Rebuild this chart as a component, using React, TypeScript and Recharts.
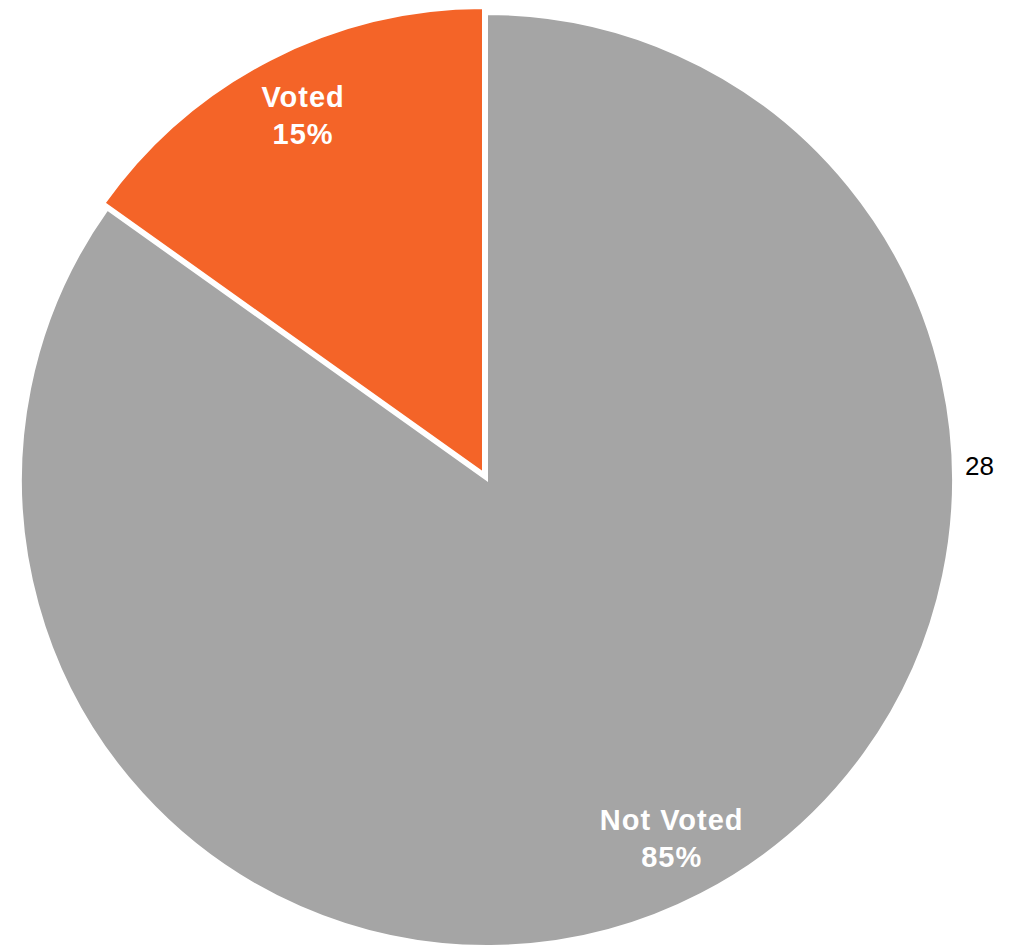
import React from 'react';
import { PieChart, Pie, Cell } from 'recharts';

const categories = ['Voted', 'Not Voted'];
const counts = [5, 28];
const percentLabels = ['15%', '85%'];
const colors = ['#F46428', '#A5A5A5'];

const data = categories.map((name, i) => ({ name, value: counts[i] }));

const RADIAN = Math.PI / 180;
const CX = 487;
const CY = 480;
const R = 466;
// exploded slice sits a little further out, so its label does too
const labelPush = [7, 0];
const labelNudgeX = [4, 0];

const renderLabel = (props: any) => {
    const { cx, cy, midAngle, outerRadius, index } = props;
    const r = outerRadius * 0.865 + labelPush[index];
    const x = cx + r * Math.cos(-midAngle * RADIAN) + labelNudgeX[index];
    const y = cy + r * Math.sin(-midAngle * RADIAN);
    const font = {
        fill: '#ffffff',
        textAnchor: 'middle' as const,
        dominantBaseline: 'central' as const,
        fontFamily: "'Liberation Sans', Arial, sans-serif",
        fontWeight: 'bold' as const,
        fontSize: 29,
        letterSpacing: 1,
    };
    return (
        <g key={`lbl-${index}`}>
            <text x={x} y={y - 18.5} {...font}>
                {categories[index]}
            </text>
            <text x={x} y={y + 18.5} {...font}>
                {percentLabels[index]}
            </text>
            {index === 1 && (
                <text
                    x={cx + outerRadius + 12}
                    y={cy - 14}
                    fill="#000000"
                    textAnchor="start"
                    dominantBaseline="central"
                    fontFamily="'Liberation Sans', Arial, sans-serif"
                    fontSize={26}
                >
                    {counts[index]}
                </text>
            )}
        </g>
    );
};

export default function App() {
    return (
        <div style={{ position: 'absolute', left: 0, top: 0, width: 1018, height: 946, background: '#fff' }}>
            <PieChart width={1018} height={946} margin={{ top: 0, right: 0, bottom: 0, left: 0 }}>
                <Pie
                    data={data}
                    dataKey="value"
                    cx={CX}
                    cy={CY}
                    outerRadius={R}
                    startAngle={90}
                    endAngle={450}
                    isAnimationActive={false}
                    labelLine={false}
                    label={renderLabel}
                >
                    {data.map((d, i) => (
                        <Cell
                            key={d.name}
                            fill={i === 1 ? colors[1] : 'none'}
                            stroke={i === 1 ? '#ffffff' : 'none'}
                            strokeWidth={i === 1 ? 2 : 0}
                        />
                    ))}
                </Pie>
                <Pie
                    data={data}
                    dataKey="value"
                    cx={CX - 3.5}
                    cy={CY - 6.5}
                    outerRadius={R}
                    startAngle={90}
                    endAngle={450}
                    isAnimationActive={false}
                    labelLine={false}
                >
                    {data.map((d, i) => (
                        <Cell
                            key={d.name}
                            fill={i === 0 ? colors[0] : 'none'}
                            stroke={i === 0 ? '#ffffff' : 'none'}
                            strokeWidth={i === 0 ? 3 : 0}
                        />
                    ))}
                </Pie>
            </PieChart>
        </div>
    );
}
